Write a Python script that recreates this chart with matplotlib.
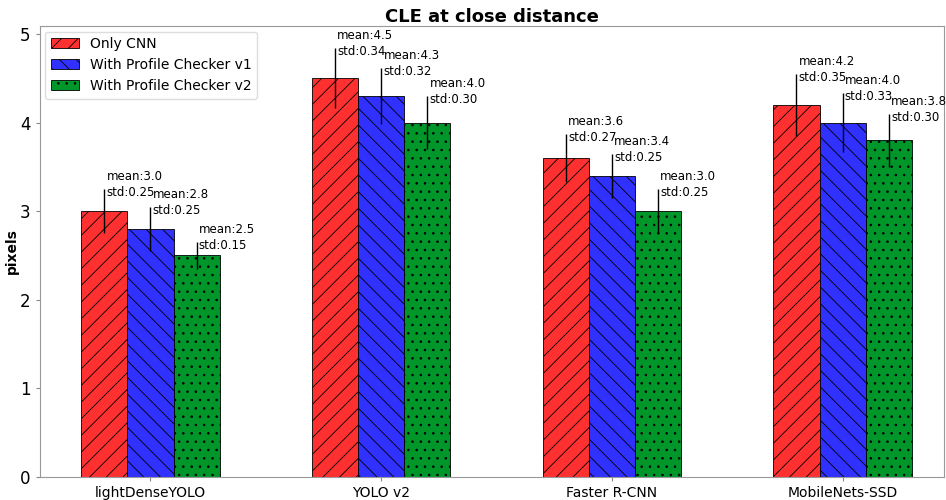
import numpy as np
import matplotlib
matplotlib.use('Agg')
import matplotlib.pyplot as plt

models = ['lightDenseYOLO', 'YOLO v2', 'Faster R-CNN', 'MobileNets-SSD']
series = ['Only CNN', 'With Profile Checker v1', 'With Profile Checker v2']

mean_cnn = [3.0, 4.5, 3.6, 4.2]
std_cnn = [0.25, 0.34, 0.27, 0.35]
mean_v1 = [2.8, 4.3, 3.4, 4.0]
std_v1 = [0.25, 0.32, 0.25, 0.33]
mean_v2 = [2.5, 4.0, 3.0, 3.8]
std_v2 = [0.15, 0.30, 0.25, 0.30]

means = [mean_cnn, mean_v1, mean_v2]
stds = [std_cnn, std_v1, std_v2]
colors = ['#ff3030', '#3030ff', '#00962a']
hatches = ['//', '\\\\', '..']

plt.rcParams['hatch.linewidth'] = 0.6

fig = plt.figure(figsize=(9.46, 5.0), dpi=100)
ax = fig.add_axes([0.042, 0.046, 0.956, 0.902])

x = np.arange(len(models))
width = 0.2

for k in range(3):
    pos = x + (k - 1) * width
    ax.bar(pos, means[k], width, color=colors[k], edgecolor='black',
           linewidth=0.6, hatch=hatches[k], label=series[k])
    ax.errorbar(pos, means[k], yerr=stds[k], fmt='none', ecolor='black',
                elinewidth=1.0, capsize=0)
    # mean/std annotation next to the top of each error bar
    for p, m, s in zip(pos, means[k], stds[k]):
        ax.text(p + 0.01, m + s + 0.05, 'mean:%.1f\nstd:%.2f' % (m, s),
                ha='left', va='center', fontsize=8.5, linespacing=1.3)

ax.set_xticks(x)
ax.set_xticklabels(models, fontsize=10)
ax.tick_params(axis='y', labelsize=12)
ax.tick_params(axis='both', color='#888888', length=3)
ax.set_xlim(-0.48, 3.44)
ax.set_ylim(0, 5.09)
ax.set_yticks([0, 1, 2, 3, 4, 5])
ax.set_ylabel('pixels', fontsize=10, fontweight='bold', labelpad=1)
ax.set_title('CLE at close distance', fontsize=13, fontweight='bold', pad=3)

for sp in ax.spines.values():
    sp.set_color('#999999')

ax.legend(loc='upper left', fontsize=10, framealpha=1.0, edgecolor='#dddddd',
          handlelength=2.0, borderaxespad=0.4)

fig.savefig('out.png', dpi=100)
